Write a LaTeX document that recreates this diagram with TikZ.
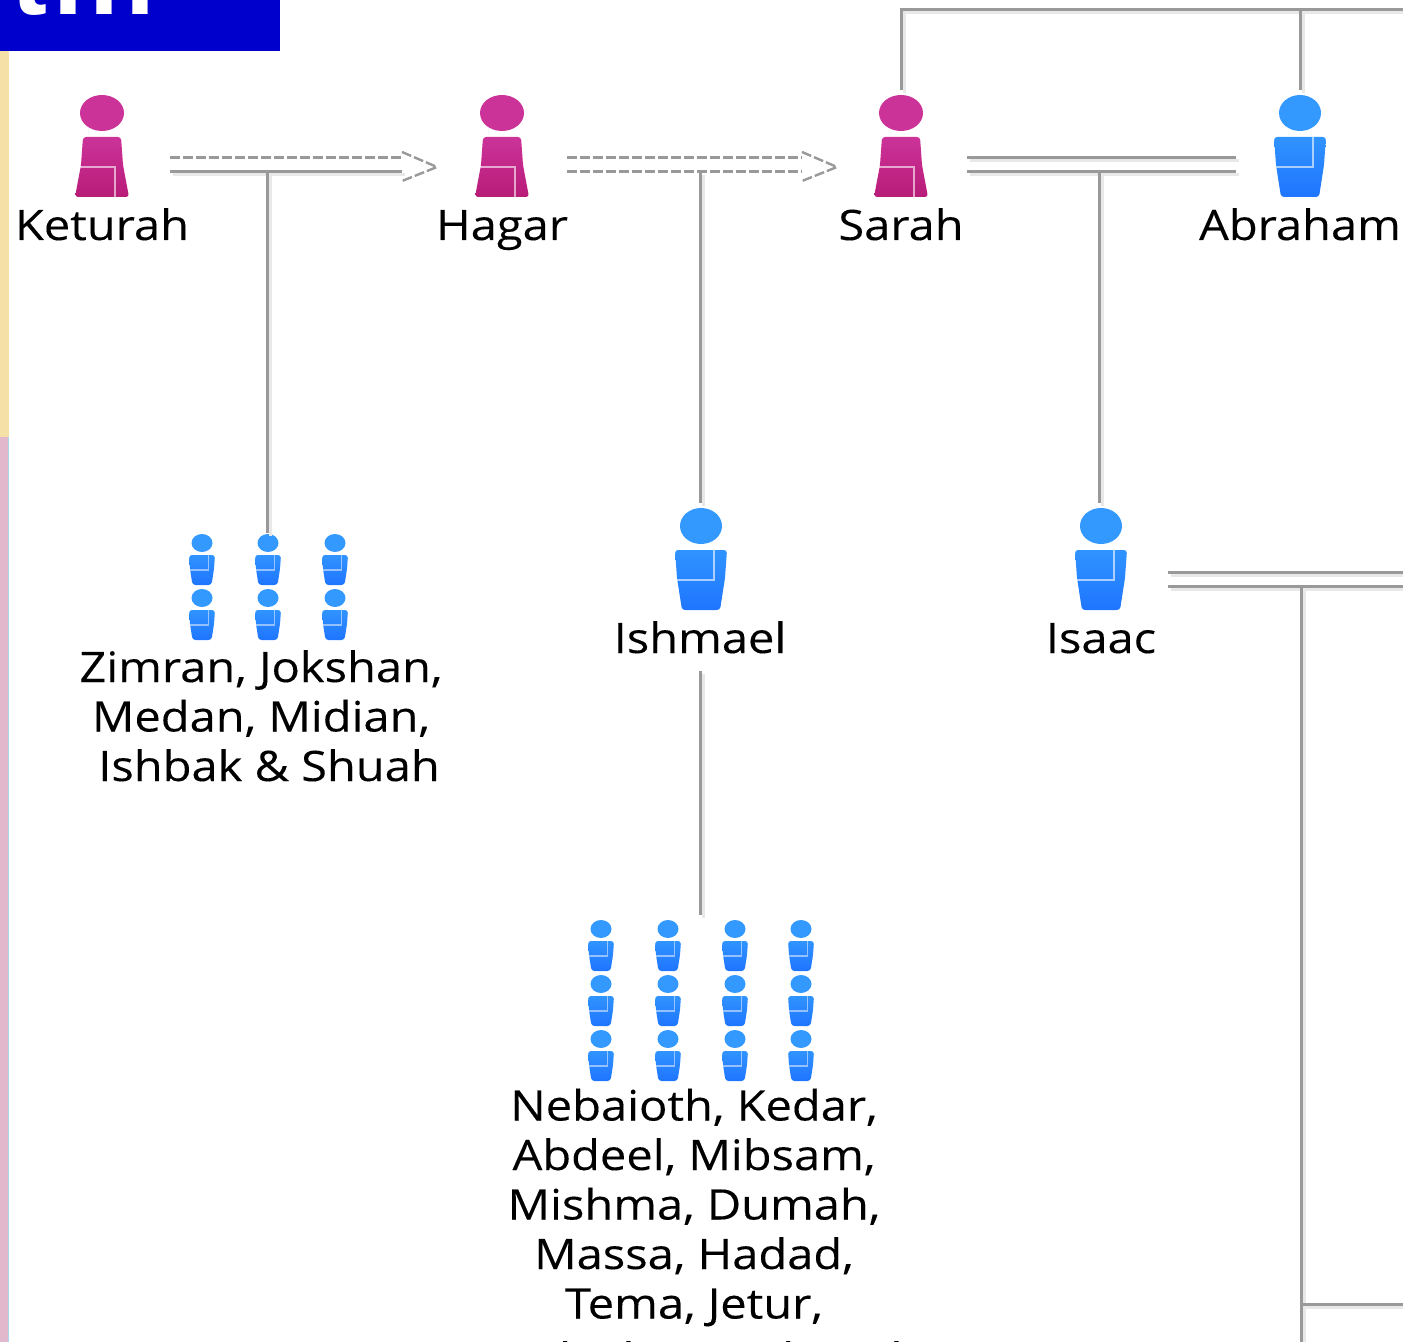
\documentclass[tikz,border=0pt]{standalone}
\usepackage{fontspec}
\setmainfont[FakeStretch=1.12, FakeBold=0.2]{Open Sans}
\newfontfamily\headfont[LetterSpace=5.5]{Liberation Sans}
\definecolor{rulegray}{HTML}{999999}
\definecolor{ruleshade}{HTML}{E8E8E8}
\definecolor{headblue}{HTML}{0000CC}
\definecolor{stripcream}{HTML}{F5E0A8}
\definecolor{stripmauve}{HTML}{E2B8CC}
\definecolor{stripblue}{HTML}{A8D8F0}
\definecolor{womanhead}{HTML}{CC3399}
\definecolor{womanlow}{HTML}{B81C78}
\definecolor{manhead}{HTML}{3399FF}
\definecolor{manlow}{HTML}{1F75FF}
\begin{document}
\begin{tikzpicture}[
        x=0.5pt, y=-0.5pt,
        conn/.style={draw=rulegray, line width=1.5pt,
            preaction={draw=ruleshade, line width=1.5pt, transform canvas={xshift=1.5pt, yshift=-1.5pt}}},
        dashconn/.style={draw=rulegray, line width=1.5pt, dash pattern=on 5pt off 1.5pt},
        figure/.style={minimum width=30pt, minimum height=52pt, inner sep=0pt, outer sep=0pt},
        lbl/.style={anchor=base, inner sep=0pt, font=\fontsize{21pt}{24.75pt}\selectfont, align=center, text=black},
        fold/.style={white, opacity=.6, line width=1.4pt},
        small/.style={scale=.5, fold/.style={white, opacity=.5, line width=.8pt}},
        woman/.pic={
            \fill[womanhead] (0,18) ellipse [x radius=22, y radius=18];
            \shade[top color=womanhead, bottom color=womanlow, rounded corners=1.5pt]
                (-19,42) -- (19,42) -- (21,70) -- (27,102) -- (-27,102) -- (-21,70) -- cycle;
            \draw[fold] (-25,72) -- (13,72) -- (13,102);
        },
        man/.pic={
            \fill[manhead] (0,18) ellipse [x radius=21, y radius=18];
            \shade[top color=manhead!85!manlow, bottom color=manlow, rounded corners=1.5pt]
                (-26,42) -- (26,42) -- (24,70) -- (19,102) -- (-19,102) -- (-24,70) -- cycle;
            \draw[fold] (13,42) -- (13,72) -- (-25,72);
        }
        ]
        \useasboundingbox (0,0) rectangle (1403,1342);
        \clip (0,0) rectangle (1403,1342);
        % Strip
        \fill[stripcream] (0,51) rectangle (9,437);
        \fill[stripmauve] (0,437) rectangle (8,1342);
        \fill[stripblue] (8,437) rectangle (9,1342);
        % Banner
        \fill[headblue] (0,0) rectangle (280,51);
        \node (banner) [anchor=base west, inner sep=0pt, text=white, font=\headfont\bfseries\fontsize{54pt}{54pt}\selectfont]
            at (-61,15) {ot...};
        % Figures
        \node (keturah) [figure] at (102,142) {};
        \node (hagar) [figure] at (502,142) {};
        \node (sarah) [figure] at (901,142) {};
        \node (abraham) [figure] at (1300,142) {};
        \node (ishmael) [figure] at (700,555) {};
        \node (isaac) [figure] at (1099,555) {};
        \pic at ([yshift=-2.5pt]keturah.north) {woman};
        \pic at ([yshift=-2.5pt]hagar.north) {woman};
        \pic at ([yshift=-2.5pt]sarah.north) {woman};
        \pic at ([yshift=-2.5pt]abraham.north) {man};
        \pic at ([xshift=.5pt, yshift=-2.5pt]ishmael.north) {man};
        \pic at ([xshift=1pt, yshift=-2.5pt]isaac.north) {man};
        % Sons of Keturah
        \node (ketsons) [figure] at (267,585) {};
        \pic[small] at (202,534) {man};
        \pic[small] at (268,534) {man};
        \pic[small] at (335,534) {man};
        \pic[small] at (202,589) {man};
        \pic[small] at (268,589) {man};
        \pic[small] at (335,589) {man};
        % Sons of Ishmael
        \node (ishsons) [figure] at (700,967) {};
        \pic[small] at (601,920) {man};
        \pic[small] at (668,920) {man};
        \pic[small] at (735,920) {man};
        \pic[small] at (801,920) {man};
        \pic[small] at (601,975) {man};
        \pic[small] at (668,975) {man};
        \pic[small] at (735,975) {man};
        \pic[small] at (801,975) {man};
        \pic[small] at (601,1030) {man};
        \pic[small] at (668,1030) {man};
        \pic[small] at (735,1030) {man};
        \pic[small] at (801,1030) {man};
        % Labels
        \node (keturahlbl) [lbl] at (102,240) {Keturah};
        \node (hagarlbl) [lbl] at (502,240) {Hagar};
        \node (sarahlbl) [lbl] at (901,240) {Sarah};
        \node (abrahamlbl) [lbl] at (1300,240) {Abraham};
        \node (ishmaellbl) [lbl] at (700,653) {Ishmael};
        \node (isaaclbl) [lbl] at (1101,653) {Isaac};
        \node (ketsonslbl) [lbl] at (261,781) {Zimran, Jokshan,\\Medan, Midian,\\\hspace*{8pt}Ishbak \& Shuah};
        \node (ishsonslbl) [lbl] at (694,1373) {Nebaioth, Kedar,\\Abdeel, Mibsam,\\Mishma, Dumah,\\Massa, Hadad,\\Tema, Jetur,\\[2.5pt]Naphish \& Kedemah};
        % Bars
        \coordinate (ketup) at (170,158);
        \coordinate (ketlow) at (170,172);
        \coordinate (hagupend) at (402,158);
        \coordinate (haglowend) at (402,172);
        \coordinate (hagtop) at (402,152);
        \coordinate (hagtip) at (437,167);
        \coordinate (hagbot) at (402,181);
        \coordinate (hagup) at (567,158);
        \coordinate (haglow) at (567,172);
        \coordinate (sarupend) at (802,158);
        \coordinate (sarlowend) at (802,172);
        \coordinate (sartop) at (802,152);
        \coordinate (sartip) at (837,167);
        \coordinate (sarbot) at (802,181);
        \coordinate (sarup) at (967,158);
        \coordinate (sarlow) at (967,172);
        \coordinate (abrup) at (1236,158);
        \coordinate (abrlow) at (1236,172);
        \coordinate (isaup) at (1168,572);
        \coordinate (isalow) at (1168,586);
        \coordinate (isaupend) at (1403,572);
        \coordinate (isalowend) at (1403,586);
        \coordinate (railtop) at (1403,10);
        \coordinate (branch) at (1403,1304);
        \coordinate (downend) at (1301,1342);
        % Concubines
        \draw[dashconn] (ketup) -- (hagupend);
        \draw[conn] (ketlow) -- (haglowend);
        \draw[dashconn, line width=1.2pt] (hagtop) -- (hagtip) -- (hagbot);
        \draw[dashconn] (hagup) -- (sarupend);
        \draw[dashconn] (haglow) -- (sarlowend);
        \draw[dashconn, line width=1.2pt] (sartop) -- (sartip) -- (sarbot);
        % Marriages
        \draw[conn] (sarup) -- (abrup);
        \draw[conn] (sarlow) -- (abrlow);
        \draw[conn] (isaup) -- (isaupend);
        \draw[conn] (isalow) -- (isalowend);
        % Descent
        \draw[conn] (ketsons.north |- ketlow) -- (ketsons.north);
        \draw[conn] (ishmael.north |- haglow) -- (ishmael.north);
        \draw[conn] (ishmaellbl.south) ++(0,17) -- (ishsons.north);
        \draw[conn] (isaac.north |- sarlow) -- (isaac.north);
        \draw[conn] (downend |- isalow) -- (downend);
        \draw[conn] (downend |- branch) -- (branch);
        % Top rail
        \draw[conn] (sarah.north) -- (sarah.north |- railtop) -- (railtop);
        \draw[conn] (abraham.north) -- (abraham.north |- railtop);
    \end{tikzpicture}
\end{document}
